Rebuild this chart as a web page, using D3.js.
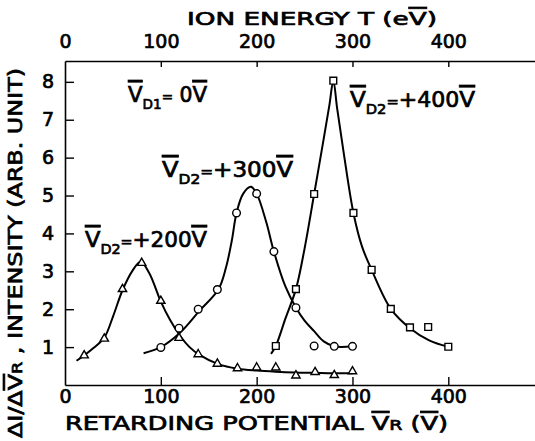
<!DOCTYPE html>
<html>
<head>
<meta charset="utf-8">
<script src="https://cdn.jsdelivr.net/npm/d3@7/dist/d3.min.js"></script>
<style>
  body { margin: 0; background: #fff; }
  svg text { font-family: "DejaVu Sans", sans-serif; fill: #000; stroke: #000; stroke-width: 0.7; }
</style>
</head>
<body>
<svg id="grafico" width="535" height="441"></svg>
<script>
// eixos
const ticksPotencial = [0, 100, 200, 300, 400];
const ticksEnergia = [0, 100, 200, 300, 400];
const ticksIntensidade = [1, 2, 3, 4, 5, 6, 7, 8];

// V_D2 = +200V (triangulos)
const potTriangulos = [20, 41, 60, 80, 100, 119, 139, 159, 180, 200, 220, 241, 261, 281, 300];
const intTriangulos = [0.78, 1.22, 2.53, 3.22, 2.22, 1.24, 0.81, 0.56, 0.44, 0.46, 0.46, 0.25, 0.34, 0.26, 0.36];
// curva desenhada a mao no original
const curvaTriPot = [12, 20, 30, 41, 50, 60, 70, 79, 88, 100, 110, 120, 130, 140, 160, 180, 200, 220, 240, 260, 280, 300];
const curvaTriInt = [0.64, 0.78, 0.98, 1.25, 1.8, 2.5, 3.0, 3.25, 2.95, 2.2, 1.7, 1.3, 1.0, 0.8, 0.55, 0.43, 0.38, 0.35, 0.33, 0.32, 0.31, 0.31];

// V_D2 = +300V (circulos)
const potCirculos = [100, 119, 139, 159, 179, 200, 218, 241, 260, 281, 300];
const intCirculos = [0.99, 1.5, 2.0, 2.52, 4.54, 5.05, 3.52, 2.04, 1.03, 1.02, 1.02];
const curvaCircPot = [82, 100, 120, 140, 160, 168, 174, 179, 186, 194, 200, 210, 218, 230, 241, 250, 260, 270, 281, 300];
const curvaCircInt = [0.84, 1.0, 1.38, 1.95, 2.52, 3.1, 3.8, 4.54, 5.05, 5.23, 5.05, 4.3, 3.52, 2.6, 2.04, 1.7, 1.42, 1.15, 1.02, 1.02];

// V_D2 = +400V (quadrados)
const potQuadrados = [220, 241, 260, 280, 301, 320, 340, 360, 379, 400];
const intQuadrados = [1.03, 2.53, 5.04, 8.03, 4.54, 3.04, 2.01, 1.52, 1.53, 1.01];
const curvaQuadPot = [215, 220, 230, 241, 250, 260, 270, 276, 280, 284, 291, 301, 310, 320, 340, 360, 380, 400];
const curvaQuadInt = [0.82, 1.03, 1.75, 2.53, 3.6, 5.04, 6.5, 7.4, 8.03, 7.3, 6.1, 4.54, 3.65, 3.04, 2.01, 1.5, 1.18, 1.01];

const svg = d3.select("#grafico");

const x = d3.scaleLinear().domain([0, 400]).range([65, 448.3]);
const y = d3.scaleLinear().domain([0, 8.55]).range([385, 61]);
const xFim = x.invert(535);

const xEixo = d3.scaleLinear().domain([0, xFim]).range([65, 535]);

// eixo inferior
const eixoBaixo = svg.append("g")
    .attr("transform", "translate(0,385)")
    .call(d3.axisBottom(xEixo).tickValues(ticksPotencial).tickSizeInner(-8).tickSizeOuter(0).tickPadding(5));

// eixo superior
const eixoCima = svg.append("g")
    .attr("transform", "translate(0,61)")
    .call(d3.axisTop(xEixo).tickValues(ticksEnergia).tickSizeInner(-6).tickSizeOuter(0).tickPadding(13));

// eixo esquerdo
const eixoEsq = svg.append("g")
    .attr("transform", "translate(65,0)")
    .call(d3.axisLeft(y).tickValues(ticksIntensidade).tickSizeInner(-9).tickSizeOuter(0).tickPadding(11));

[eixoBaixo, eixoCima, eixoEsq].forEach(eixo => {
    eixo.selectAll("path.domain").attr("stroke", "#000").attr("stroke-width", 1.6);
    eixo.selectAll(".tick line").attr("stroke", "#000").attr("stroke-width", 1.4);
    eixo.selectAll(".tick text").attr("font-size", 19).attr("fill", "#000")
        .style("font-family", "DejaVu Sans");
    eixo.selectAll(".tick").filter(d => d === 0).select("line").remove();
});

// titulos
svg.append("text")
    .attr("x", 187).attr("y", 25)
    .attr("font-size", 18)
    .attr("textLength", 250).attr("lengthAdjust", "spacingAndGlyphs")
    .call(t => {
        t.append("tspan").text("ION  ENERGY  T  (e");
        t.append("tspan").style("text-decoration", "overline").text("V");
        t.append("tspan").text(")");
    });

svg.append("text")
    .attr("x", 65).attr("y", 430)
    .attr("font-size", 19)
    .attr("textLength", 383).attr("lengthAdjust", "spacingAndGlyphs")
    .call(t => {
        t.append("tspan").text("RETARDING  POTENTIAL  ");
        t.append("tspan").style("text-decoration", "overline").text("V");
        t.append("tspan").attr("font-size", 14).text("R");
        t.append("tspan").text(" (");
        t.append("tspan").style("text-decoration", "overline").text("V");
        t.append("tspan").text(")");
    });

svg.append("text")
    .attr("transform", "translate(22,253) rotate(-90)")
    .attr("text-anchor", "middle")
    .attr("font-size", 19)
    .attr("textLength", 370).attr("lengthAdjust", "spacingAndGlyphs")
    .call(t => {
        t.append("tspan").text("ΔI/Δ");
        t.append("tspan").style("text-decoration", "overline").text("V");
        t.append("tspan").attr("font-size", 14).text("R");
        t.append("tspan").text(" , INTENSITY  (ARB. UNIT)");
    });

// rotulos das curvas
function anotar(xi, yi, sub, resto, largura) {
    const t = svg.append("text")
        .attr("x", xi).attr("y", yi)
        .attr("textLength", largura).attr("lengthAdjust", "spacingAndGlyphs");
    t.append("tspan").attr("font-size", 22).style("text-decoration", "overline").text("V");
    t.append("tspan").attr("font-size", 14).attr("dy", 7).text(sub);
    t.append("tspan").attr("font-size", 14).attr("dy", -7).text("=");
    t.append("tspan").attr("font-size", 21).text(resto);
    t.append("tspan").attr("font-size", 22).style("text-decoration", "overline").text("V");
}
anotar(128, 102, "D1", " 0", 79);
anotar(162, 177, "D2", "+300", 131);
anotar(85, 247, "D2", "+200", 122);
anotar(350, 107, "D2", "+400", 125);

// curvas
const linha = d3.line()
    .x(d => x(d[0]))
    .y(d => y(d[1]))
    .curve(d3.curveCatmullRom.alpha(0.5));

[[curvaTriPot, curvaTriInt], [curvaCircPot, curvaCircInt], [curvaQuadPot, curvaQuadInt]].forEach(([vs, is]) => {
    svg.append("path")
        .datum(d3.zip(vs, is))
        .attr("d", linha)
        .attr("fill", "none")
        .attr("stroke", "#000")
        .attr("stroke-width", 2);
});

// marcadores
function marcar(vs, is, tipo, tamanho) {
    svg.append("g").selectAll("path")
        .data(d3.zip(vs, is))
        .join("path")
            .attr("transform", d => `translate(${x(d[0])},${y(d[1])})`)
            .attr("d", d3.symbol().type(tipo).size(tamanho))
            .attr("fill", "#fff")
            .attr("stroke", "#000")
            .attr("stroke-width", 1.4);
}
marcar(potTriangulos, intTriangulos, d3.symbolTriangle, 30);
marcar(potCirculos, intCirculos, d3.symbolCircle, 46);
marcar(potQuadrados, intQuadrados, d3.symbolSquare, 46);
</script>
</body>
</html>
